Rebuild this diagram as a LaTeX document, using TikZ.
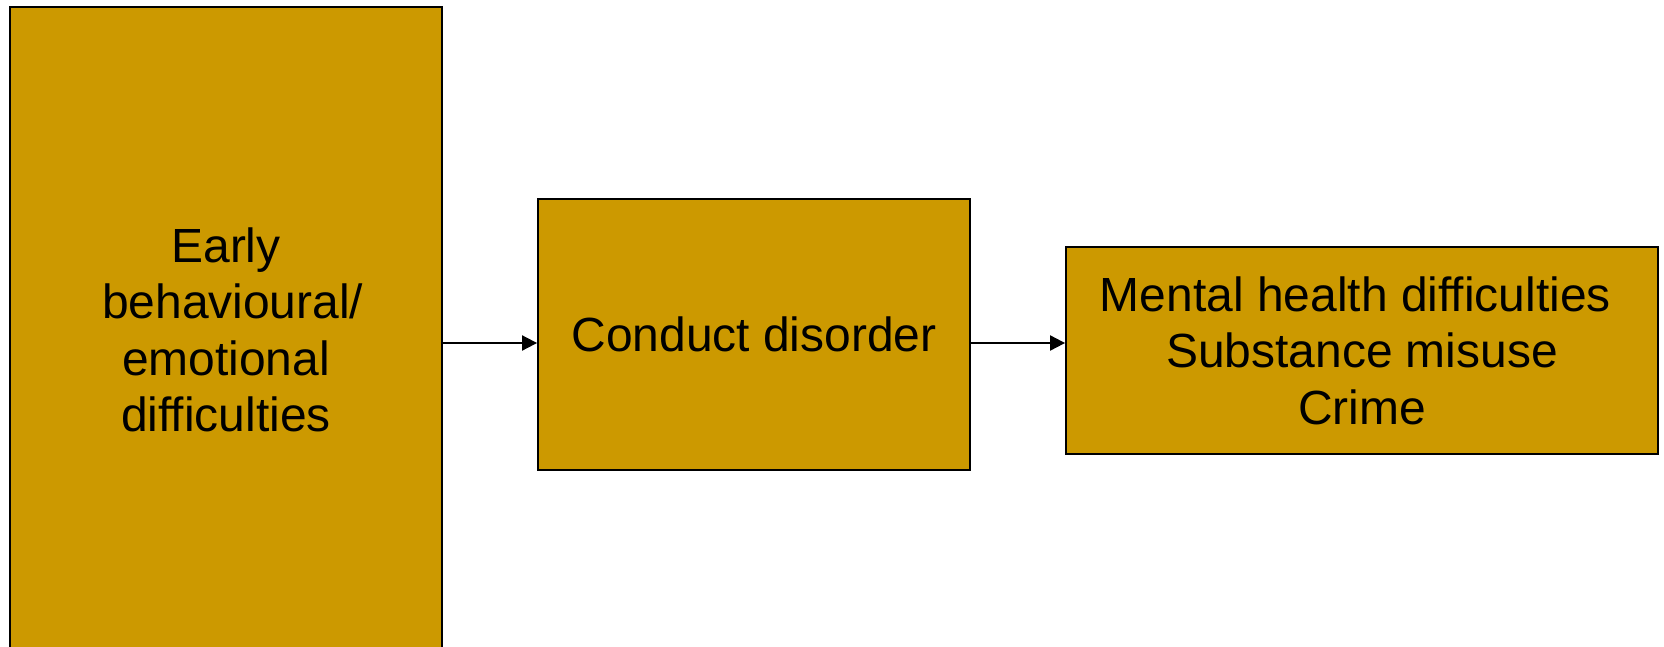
\documentclass[tikz,border=0pt]{standalone}
\usepackage{fontspec}
\setmainfont{Liberation Sans}
\usetikzlibrary{arrows.meta}
\usetikzlibrary{positioning}
\definecolor{boxgold}{HTML}{CC9900}

\begin{document}
\begin{tikzpicture}[x=0.02cm,y=-0.02cm,
  every node/.style={draw,fill=boxgold,line width=1.1pt,align=center,inner sep=0pt,
    font=\fontsize{27.3pt}{32.1pt}\selectfont},
  link/.style={line width=1.1pt,-{Triangle[length=15*0.02cm,width=15*0.02cm]}}]
  \clip (0,0) rectangle (1664,646);
  \useasboundingbox (0,0) rectangle (1664,646);

  \node[minimum width=8.64cm,minimum height=12.92cm] (early) at (226,330)
    {Early\\\hphantom{\ }behavioural/\\emotional\\difficulties};
  \node[minimum width=8.64cm,minimum height=5.42cm] (conduct) at (754,334.5)
    {Conduct disorder};
  \node[minimum width=11.84cm,minimum height=4.14cm] (outcome) at (1362,350.5)
    {Mental health difficulties\hphantom{\ }\\Substance misuse\\Crime};

  \coordinate (mid) at (0,343);
  \draw[link] (early.east |- mid) -- (conduct.west |- mid);
  \draw[link] (conduct.east |- mid) -- (outcome.west |- mid);
\end{tikzpicture}
\end{document}
